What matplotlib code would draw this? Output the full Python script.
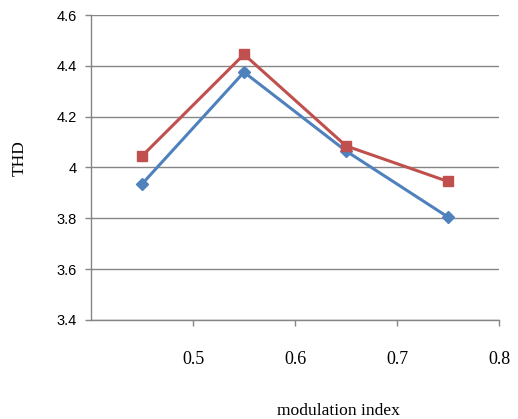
import matplotlib.pyplot as plt

# data
mod_index = [0.45, 0.55, 0.65, 0.75]
thd_blue = [3.935, 4.375, 4.065, 3.805]
thd_red = [4.045, 4.445, 4.085, 3.945]

x_ticks = [0.5, 0.6, 0.7, 0.8]
y_ticks = [3.4, 3.6, 3.8, 4.0, 4.2, 4.4, 4.6]
y_labels = ["3.4", "3.6", "3.8", "4", "4.2", "4.4", "4.6"]

fig = plt.figure(figsize=(5.18, 4.19), dpi=100)
ax = fig.add_axes([0.1757, 0.2363, 0.7876, 0.7279])

ax.plot(mod_index, thd_blue, color="#4F81BD", lw=2.2, marker="D", ms=6, zorder=3)
ax.plot(mod_index, thd_red, color="#C0504D", lw=2.2, marker="s", ms=7.5, zorder=4)

ax.set_xlim(0.4, 0.8)
ax.set_ylim(3.4, 4.6)
ax.set_xticks(x_ticks)
ax.set_xticklabels([str(t) for t in x_ticks], family="Liberation Serif", fontsize=13)
ax.set_yticks(y_ticks)
ax.set_yticklabels(y_labels, family="Liberation Sans", fontsize=10.5)

ax.grid(axis="y", color="#868686", lw=1)
ax.set_axisbelow(True)
for s in ["top", "right"]:
    ax.spines[s].set_visible(False)
for s in ["left", "bottom"]:
    ax.spines[s].set_color("#868686")
    ax.spines[s].set_linewidth(1)
ax.tick_params(axis="both", direction="out", length=4, color="#868686", width=1)
ax.tick_params(axis="x", pad=18)
ax.tick_params(axis="y", pad=6)

ax.set_xlabel("modulation index", family="Liberation Serif", fontsize=12.6, va="center")
ax.xaxis.set_label_coords(0.607, -0.30)
ax.set_ylabel("THD", family="Liberation Serif", fontsize=12.5, va="center")
ax.yaxis.set_label_coords(-0.174, 0.531)

fig.savefig("out.png", dpi=100)
